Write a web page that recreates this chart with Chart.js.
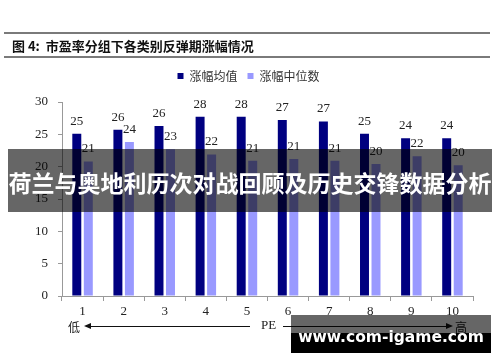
<!DOCTYPE html>
<html>
<head>
<meta charset="utf-8">
<script src="https://cdn.jsdelivr.net/npm/chart.js@4.4.1/dist/chart.umd.min.js"></script>
<style>
    html, body { margin: 0; padding: 0; background: #fff; }
    #wrap { position: relative; width: 500px; height: 362px; overflow: hidden; }
    #chart { position: absolute; left: 0; top: 0; }
    .rule { position: absolute; left: 4px; width: 486px; height: 2px; background: #7a7a7a; }
    #title { position: absolute; left: 12px; top: 36px; font: bold 13px "Noto Sans CJK SC", sans-serif; color: #111; white-space: pre; }
    .pe { position: absolute; top: 318px; font: 12px "Noto Sans CJK SC", "Liberation Serif", serif; color: #222; }
    .arrow { position: absolute; top: 326px; height: 1px; background: #111; }
    .head-l { position: absolute; top: 323px; width: 0; height: 0; border-top: 3.5px solid transparent; border-bottom: 3.5px solid transparent; border-right: 7px solid #111; }
    .head-r { position: absolute; top: 323px; width: 0; height: 0; border-top: 3.5px solid transparent; border-bottom: 3.5px solid transparent; border-left: 7px solid #111; }
    #banner { position: absolute; left: 8px; top: 149px; width: 484px; height: 63px; background: rgba(0,0,0,0.6); }
    #banner-text { position: absolute; left: 8px; top: 151px; width: 484px; height: 63px; color: #fff;
                   font: bold 23px "Noto Sans CJK SC", sans-serif; text-align: center; line-height: 63px; white-space: nowrap; }
    #mark-top { position: absolute; left: 291px; top: 315px; width: 200px; height: 18px; background: rgba(0,0,0,0.6); }
    #mark-bot { position: absolute; left: 291px; top: 333px; width: 200px; height: 20px; background: #000; }
    #mark-text { position: absolute; left: 291px; top: 325px; width: 200px; text-align: center; color: #fff;
                 font: bold 15.5px "DejaVu Sans", sans-serif; line-height: 24px; white-space: nowrap; }
</style>
</head>
<body>
<div id="wrap">
    <canvas id="chart" width="500" height="362"></canvas>
    <div class="rule" style="top:32px"></div>
    <div id="title">图 4:  市盈率分组下各类别反弹期涨幅情况</div>
    <div class="rule" style="top:56px"></div>

    <div class="pe" style="left:68px">低</div>
    <div class="head-l" style="left:84px"></div>
    <div class="arrow" style="left:90px;width:160px"></div>
    <div class="pe" style="left:261px;font-family:'Liberation Serif',serif;font-size:13px;top:317px">PE</div>
    <div class="arrow" style="left:283px;width:163px"></div>
    <div class="head-r" style="left:446px"></div>
    <div class="pe" style="left:455px">高</div>

    <div id="banner"></div>
    <div id="banner-text">荷兰与奥地利历次对战回顾及历史交锋数据分析</div>
    <div id="mark-top"></div>
    <div id="mark-bot"></div>
    <div id="mark-text">www.com-igame.com</div>
</div>
<script>
const categories = ['1', '2', '3', '4', '5', '6', '7', '8', '9', '10'];
const seriesNames = ['涨幅均值', '涨幅中位数'];
const meanValues = [25.1, 25.7, 26.3, 27.7, 27.7, 27.2, 27.0, 25.1, 24.4, 24.4];
const medianValues = [20.8, 23.8, 22.7, 21.9, 20.9, 21.2, 20.9, 20.4, 21.6, 20.2];
const seriesColors = ['#000080', '#9999FF'];

const SERIF = '"Liberation Serif", "Times New Roman", serif';

// value labels above each bar, rounded like the source
const barLabels = {
    id: 'barLabels',
    afterDatasetsDraw(chart) {
        const ctx = chart.ctx;
        ctx.save();
        ctx.font = '13px ' + SERIF;
        ctx.fillStyle = '#222';
        ctx.textAlign = 'center';
        ctx.textBaseline = 'alphabetic';
        chart.data.datasets.forEach((ds, i) => {
            chart.getDatasetMeta(i).data.forEach((bar, j) => {
                ctx.fillText(Math.round(ds.data[j]), bar.x, bar.y - 9);
            });
        });
        ctx.restore();
    }
};

new Chart(document.getElementById('chart').getContext('2d'), {
    type: 'bar',
    data: {
        labels: categories,
        datasets: [
            { label: seriesNames[0], data: meanValues, backgroundColor: seriesColors[0], borderWidth: 0 },
            { label: seriesNames[1], data: medianValues, backgroundColor: seriesColors[1], borderWidth: 0 }
        ]
    },
    options: {
        responsive: false,
        animation: false,
        datasets: { bar: { categoryPercentage: 0.56, barPercentage: 0.78 } },
        layout: { padding: { top: 60, right: 27, bottom: 0, left: 24 } },
        plugins: {
            legend: {
                position: 'top',
                labels: {
                    boxWidth: 6,
                    boxHeight: 6,
                    padding: 10,
                    color: '#333',
                    font: { family: '"Noto Sans CJK SC", sans-serif', size: 12 }
                }
            },
            // empty spacer between legend and plot
            subtitle: { display: true, text: '', weight: 500, padding: 0, font: { size: 10, lineHeight: 1 } },
            tooltip: { enabled: false }
        },
        scales: {
            x: {
                grid: { drawOnChartArea: false, tickLength: 5, color: '#999', offset: true },
                border: { color: '#999' },
                ticks: { color: '#222', padding: 3, font: { family: SERIF, size: 13 } },
                afterFit(scale) { scale.height = 66; }
            },
            y: {
                min: 0,
                max: 30,
                grid: { drawOnChartArea: false, tickLength: 4, color: '#999' },
                border: { color: '#999' },
                ticks: { stepSize: 5, color: '#222', padding: 10, font: { family: SERIF, size: 13 } },
                afterFit(scale) { scale.width = 38; }
            }
        }
    },
    plugins: [barLabels]
});
</script>
</body>
</html>
